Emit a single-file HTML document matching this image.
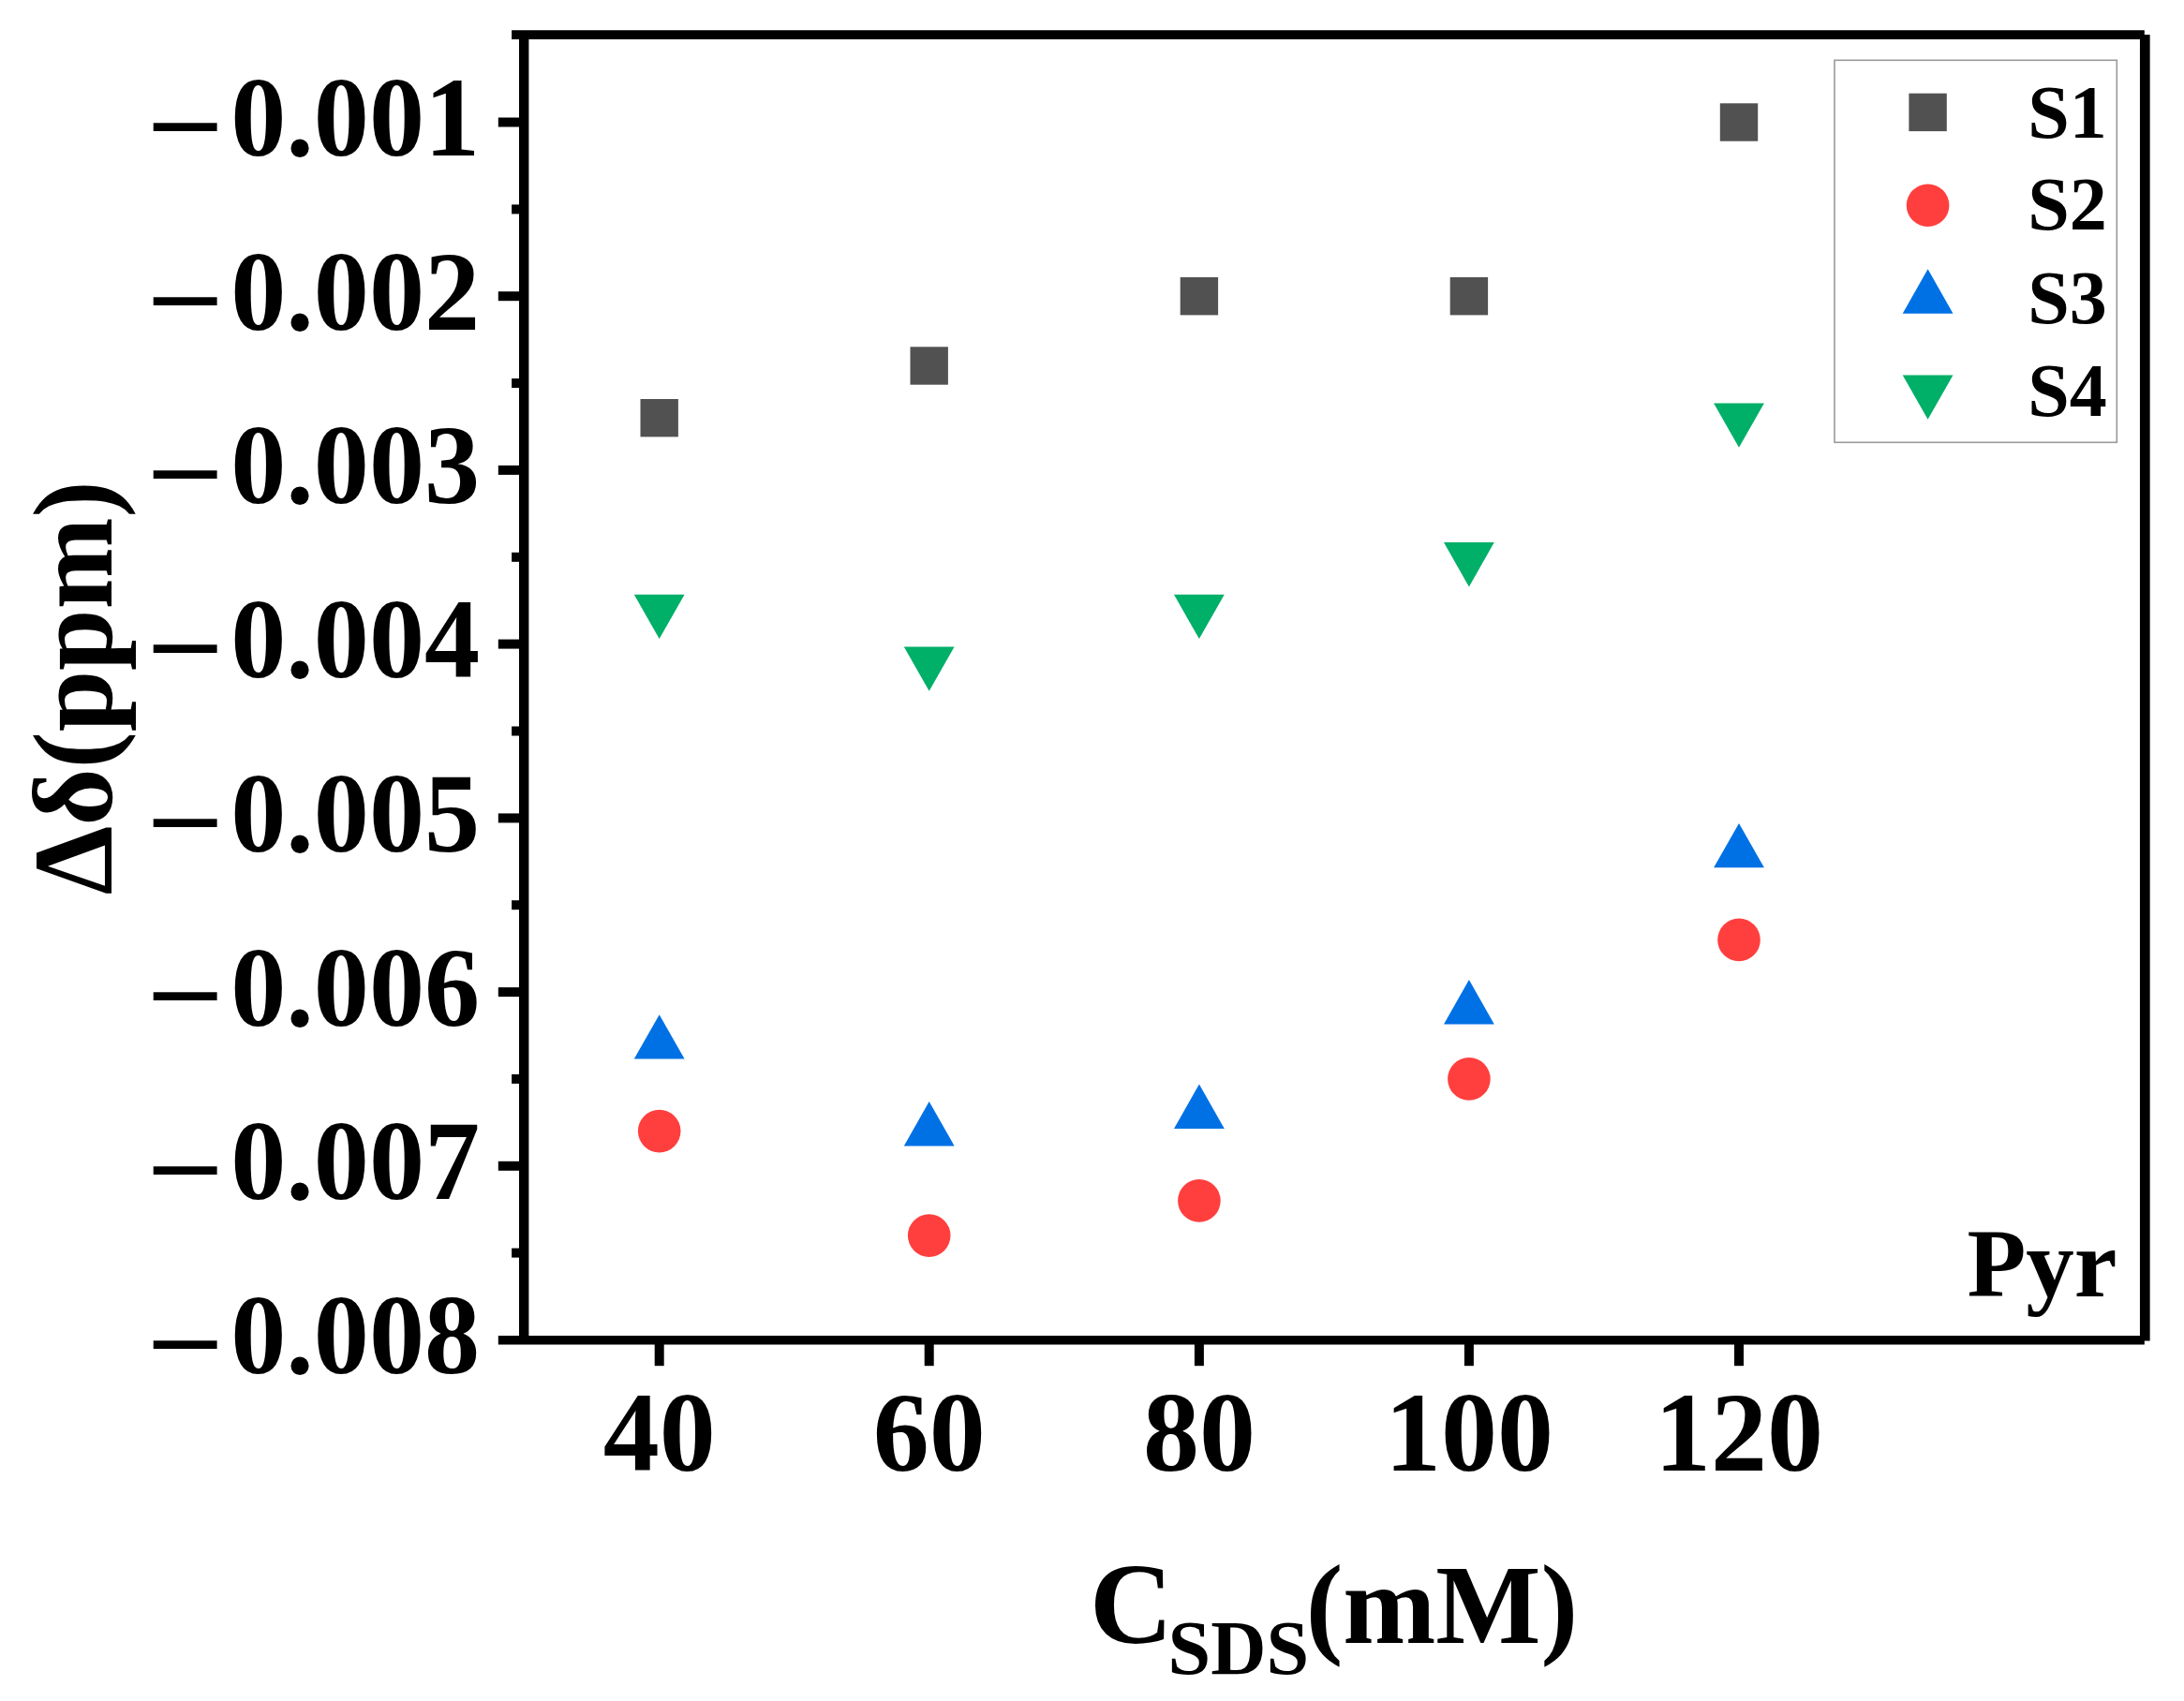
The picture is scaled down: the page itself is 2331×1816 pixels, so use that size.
<!DOCTYPE html>
<html lang="en"><head><meta charset="utf-8"><title>Pyr chemical shift vs SDS concentration</title>
<style>html,body{margin:0;padding:0;background:#fff;}svg{display:block;}text{font-family:"Liberation Serif","DejaVu Serif",serif;font-weight:bold;fill:#000;}</style></head><body>
<svg width="2331" height="1816" viewBox="0 0 2331 1816">
<rect width="2331" height="1816" fill="#fff"/>
<g stroke="#000" stroke-width="10" fill="none">
<line x1="546.1" y1="37.2" x2="2288.8" y2="37.2" stroke-width="9.7"/>
<line x1="531.8" y1="1430.7" x2="2288.8" y2="1430.7" stroke-width="9.5"/>
<line x1="559.2" y1="37.2" x2="559.2" y2="1430.7" stroke-width="10.4"/>
<line x1="2289.3" y1="37" x2="2289.3" y2="1431.6" stroke-width="10.7"/>
<line x1="531.8" y1="130.5" x2="559.5" y2="130.5"/>
<line x1="531.8" y1="316.2" x2="559.5" y2="316.2"/>
<line x1="531.8" y1="501.9" x2="559.5" y2="501.9"/>
<line x1="531.8" y1="687.6" x2="559.5" y2="687.6"/>
<line x1="531.8" y1="873.4" x2="559.5" y2="873.4"/>
<line x1="531.8" y1="1059.1" x2="559.5" y2="1059.1"/>
<line x1="531.8" y1="1244.8" x2="559.5" y2="1244.8"/>
<line x1="546.1" y1="223.4" x2="559.5" y2="223.4"/>
<line x1="546.1" y1="409.1" x2="559.5" y2="409.1"/>
<line x1="546.1" y1="594.8" x2="559.5" y2="594.8"/>
<line x1="546.1" y1="780.5" x2="559.5" y2="780.5"/>
<line x1="546.1" y1="966.2" x2="559.5" y2="966.2"/>
<line x1="546.1" y1="1151.9" x2="559.5" y2="1151.9"/>
<line x1="546.1" y1="1337.6" x2="559.5" y2="1337.6"/>
<line x1="703.7" y1="1430.5" x2="703.7" y2="1458.2"/>
<line x1="991.7" y1="1430.5" x2="991.7" y2="1458.2"/>
<line x1="1279.9" y1="1430.5" x2="1279.9" y2="1458.2"/>
<line x1="1567.9" y1="1430.5" x2="1567.9" y2="1458.2"/>
<line x1="1856.0" y1="1430.5" x2="1856.0" y2="1458.2"/>
</g>
<g font-size="120">
<text transform="translate(155.8,176.8) scale(1.218,1.04)">−</text><text x="246.2" y="165.9" textLength="266" lengthAdjust="spacingAndGlyphs">0.001</text>
<text transform="translate(155.8,362.5) scale(1.218,1.04)">−</text><text x="246.2" y="351.6" textLength="266" lengthAdjust="spacingAndGlyphs">0.002</text>
<text transform="translate(155.8,548.2) scale(1.218,1.04)">−</text><text x="246.2" y="537.3" textLength="266" lengthAdjust="spacingAndGlyphs">0.003</text>
<text transform="translate(155.8,733.9) scale(1.218,1.04)">−</text><text x="246.2" y="723.0" textLength="266" lengthAdjust="spacingAndGlyphs">0.004</text>
<text transform="translate(155.8,919.7) scale(1.218,1.04)">−</text><text x="246.2" y="908.8" textLength="266" lengthAdjust="spacingAndGlyphs">0.005</text>
<text transform="translate(155.8,1105.4) scale(1.218,1.04)">−</text><text x="246.2" y="1094.5" textLength="266" lengthAdjust="spacingAndGlyphs">0.006</text>
<text transform="translate(155.8,1291.1) scale(1.218,1.04)">−</text><text x="246.2" y="1280.2" textLength="266" lengthAdjust="spacingAndGlyphs">0.007</text>
<text transform="translate(155.8,1476.8) scale(1.218,1.04)">−</text><text x="246.2" y="1465.9" textLength="266" lengthAdjust="spacingAndGlyphs">0.008</text>
<text x="703.7" y="1570" text-anchor="middle">40</text>
<text x="991.7" y="1570" text-anchor="middle">60</text>
<text x="1279.9" y="1570" text-anchor="middle">80</text>
<text x="1567.9" y="1570" text-anchor="middle">100</text>
<text x="1856.0" y="1570" text-anchor="middle">120</text>
</g>
<text y="1753.5" font-size="120"><tspan x="1162.9" font-size="123">C</tspan><tspan x="1246.6" font-size="82" dy="33">SDS</tspan><tspan x="1393.7" dy="-33" textLength="290.5" lengthAdjust="spacingAndGlyphs">(mM)</tspan></text>
<text transform="translate(118.5,955.3) rotate(-90)" font-size="120" textLength="441.9" lengthAdjust="spacingAndGlyphs">Δδ(ppm)</text>
<text x="2099.4" y="1384" font-size="103">Pyr</text>
<g>
<rect x="683.5" y="426.0" width="40.4" height="40.4" fill="#515151"/>
<rect x="971.5" y="370.3" width="40.4" height="40.4" fill="#515151"/>
<rect x="1259.7" y="296.0" width="40.4" height="40.4" fill="#515151"/>
<rect x="1547.7" y="296.0" width="40.4" height="40.4" fill="#515151"/>
<rect x="1835.8" y="110.3" width="40.4" height="40.4" fill="#515151"/>
<polygon points="676.8,634.7 730.6,634.7 703.7,682.1" fill="#00AF68"/>
<polygon points="964.8,690.4 1018.6,690.4 991.7,737.8" fill="#00AF68"/>
<polygon points="1253.0,634.7 1306.8,634.7 1279.9,682.1" fill="#00AF68"/>
<polygon points="1541.0,579.0 1594.8,579.0 1567.9,626.4" fill="#00AF68"/>
<polygon points="1829.1,430.4 1882.9,430.4 1856.0,477.8" fill="#00AF68"/>
<polygon points="676.8,1130.6 730.6,1130.6 703.7,1083.2" fill="#0071E5"/>
<polygon points="964.8,1223.4 1018.6,1223.4 991.7,1176.0" fill="#0071E5"/>
<polygon points="1253.0,1204.9 1306.8,1204.9 1279.9,1157.5" fill="#0071E5"/>
<polygon points="1541.0,1093.4 1594.8,1093.4 1567.9,1046.0" fill="#0071E5"/>
<polygon points="1829.1,926.3 1882.9,926.3 1856.0,878.9" fill="#0071E5"/>
<circle cx="703.7" cy="1207.6" r="22.8" fill="#FF3F3E"/>
<circle cx="991.7" cy="1319.1" r="22.8" fill="#FF3F3E"/>
<circle cx="1279.9" cy="1281.9" r="22.8" fill="#FF3F3E"/>
<circle cx="1567.9" cy="1151.9" r="22.8" fill="#FF3F3E"/>
<circle cx="1856.0" cy="1003.4" r="22.8" fill="#FF3F3E"/>
</g>
<rect x="1958" y="64.3" width="301.3" height="408" fill="#fff" stroke="#999" stroke-width="1.6"/>
<rect x="2037.4" y="99.7" width="40.4" height="40.4" fill="#515151"/>
<circle cx="2057.6" cy="219.2" r="22.8" fill="#FF3F3E"/>
<polygon points="2030.7,334.7 2084.5,334.7 2057.6,287.3" fill="#0071E5"/>
<polygon points="2030.7,400.4 2084.5,400.4 2057.6,447.8" fill="#00AF68"/>
<g font-size="80">
<text x="2164.3" y="146.9">S1</text>
<text x="2164.3" y="245.2">S2</text>
<text x="2164.3" y="344.5">S3</text>
<text x="2164.3" y="443.7">S4</text>
</g>
</svg></body></html>
